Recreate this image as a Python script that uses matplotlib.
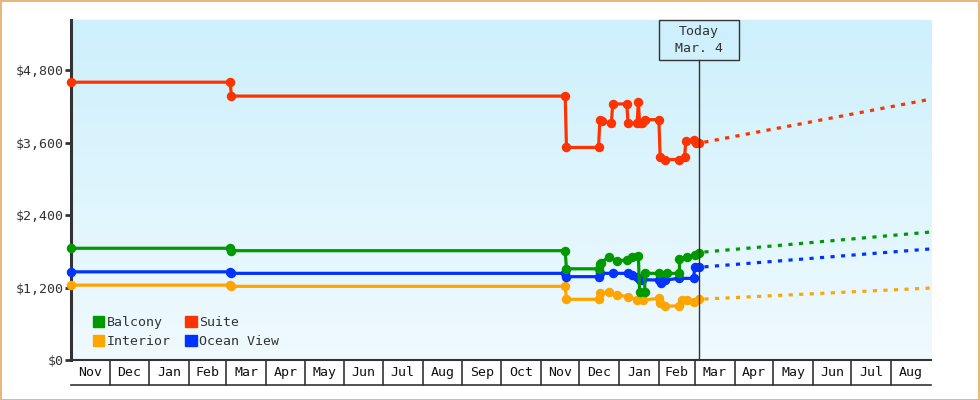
import matplotlib
matplotlib.use("Agg")
import matplotlib.pyplot as plt
import matplotlib.dates as mdates
import matplotlib.patches as mpatches
import matplotlib.transforms as mtransforms
import numpy as np
import pandas as pd

# ---------------- data ----------------
suite_dates = ["2023-11-01", "2024-03-04", "2024-03-05", "2024-11-20", "2024-11-21",
               "2024-12-16", "2024-12-17", "2024-12-19", "2024-12-26", "2024-12-27",
               "2025-01-07", "2025-01-08", "2025-01-15", "2025-01-16", "2025-01-17",
               "2025-01-19", "2025-01-21", "2025-02-01", "2025-02-02", "2025-02-06",
               "2025-02-17", "2025-02-21", "2025-02-22", "2025-02-28", "2025-03-02",
               "2025-03-04"]
suite_prices = [4600, 4600, 4370, 4370, 3520, 3520, 3970, 3960, 3920, 4240,
                4240, 3920, 3920, 4270, 3920, 3920, 3980, 3980, 3360, 3320,
                3320, 3360, 3630, 3640, 3600, 3590]

balcony_dates = ["2023-11-01", "2024-03-04", "2024-03-05", "2024-11-20", "2024-11-21",
                 "2024-12-16", "2024-12-17", "2024-12-18", "2024-12-24", "2024-12-30",
                 "2025-01-07", "2025-01-11", "2025-01-16", "2025-01-17", "2025-01-21",
                 "2025-01-21", "2025-02-01", "2025-02-07", "2025-02-17", "2025-02-17",
                 "2025-02-23", "2025-03-01", "2025-03-04"]
balcony_prices = [1850, 1850, 1810, 1810, 1510, 1510, 1590, 1610, 1710, 1645,
                  1655, 1700, 1720, 1130, 1130, 1435, 1435, 1435, 1435, 1667,
                  1700, 1740, 1780]

ocean_dates = ["2023-11-01", "2024-03-04", "2024-03-05", "2024-11-20", "2024-11-21",
               "2024-12-16", "2024-12-17", "2024-12-27", "2025-01-08", "2025-01-11",
               "2025-01-15", "2025-01-17", "2025-01-19", "2025-02-01", "2025-02-03",
               "2025-02-06", "2025-02-17", "2025-02-28", "2025-03-01", "2025-03-04"]
ocean_prices = [1460, 1460, 1435, 1435, 1380, 1380, 1435, 1435, 1435, 1407,
                1380, 1324, 1330, 1324, 1270, 1324, 1352, 1352, 1540, 1535]

interior_dates = ["2023-11-01", "2024-03-04", "2024-03-05", "2024-11-20", "2024-11-21",
                  "2024-12-16", "2024-12-17", "2024-12-24", "2024-12-30", "2025-01-08",
                  "2025-01-15", "2025-01-20", "2025-02-01", "2025-02-02", "2025-02-06",
                  "2025-02-17", "2025-02-19", "2025-02-23", "2025-02-28", "2025-03-04"]
interior_prices = [1240, 1240, 1220, 1220, 1005, 1005, 1104, 1131, 1076, 1048,
                   993, 993, 1021, 938, 894, 894, 993, 993, 965, 1005]

proj_dates = ["2025-03-04", "2025-09-01"]
suite_proj = [3590, 4320]
balcony_proj = [1780, 2120]
ocean_proj = [1535, 1840]
interior_proj = [1005, 1192]

series_names = ["Balcony", "Interior", "Suite", "Ocean View"]
series_colors = ["#009900", "#ffa500", "#ff3300", "#0033ff"]

y_ticks = [0, 1200, 2400, 3600, 4800]
y_ticklabels = ["$0", "$1,200", "$2,400", "$3,600", "$4,800"]
x_start, x_end = "2023-11-01", "2025-09-01"
today = "2025-03-04"
today_label = "Today\nMar. 4"

# ---------------- figure ----------------
W, H = 980, 400
fig = plt.figure(figsize=(W / 100, H / 100), dpi=100)
fig.patch.set_facecolor("white")
plt.rcParams["font.family"] = ["DejaVu Sans Mono"]
ink = "#333333"

# outer border
fig.add_artist(mpatches.Rectangle((0.5 / W, 0.5 / H), (W - 1.5) / W, (H - 1.5) / H,
                                  transform=fig.transFigure, fill=False,
                                  edgecolor="#e8a860", linewidth=1.2))

ax = fig.add_axes([71 / W, 40 / H, 860 / W, 340 / H])
x0 = mdates.datestr2num(x_start)
x1 = mdates.datestr2num(x_end)
ax.set_xlim(x0, x1)
ax.set_ylim(0, 5630)

# gradient background
grad = np.linspace(0, 1, 256).reshape(-1, 1)
top = np.array([205, 240, 252]) / 255
bot = np.array([240, 250, 255]) / 255
img = top[None, None, :] * (1 - grad[:, :, None]) + bot[None, None, :] * grad[:, :, None]
ax.imshow(img, extent=[0, 1, 0, 1], transform=ax.transAxes, aspect="auto",
          origin="upper", zorder=0)

ax.set_facecolor("none")
for s in ["top", "right"]:
    ax.spines[s].set_visible(False)
ax.spines["left"].set_color(ink)
ax.spines["left"].set_linewidth(2.2)
ax.spines["bottom"].set_color(ink)
ax.spines["bottom"].set_linewidth(1.5)

ax.set_yticks(y_ticks)
ax.set_yticklabels(y_ticklabels)
ax.tick_params(axis="y", length=4, width=2, color=ink, labelcolor=ink,
               labelsize=9.5, pad=1)
ax.set_xticks([])

# month band
trans = mtransforms.blended_transform_factory(ax.transData, ax.transAxes)
band_h = 25 / 340
months = pd.date_range(x_start, x_end, freq="MS")
for i, m in enumerate(months[:-1]):
    mn = mdates.date2num(m)
    mx = mdates.date2num(months[i + 1])
    if i > 0:
        ax.plot([mn, mn], [0, -band_h], transform=trans, color=ink, lw=1.2,
                clip_on=False)
    ax.text((mn + mx) / 2, -band_h / 2, m.strftime("%b"), transform=trans,
            ha="center", va="center", fontsize=9.5, color="#111111", clip_on=False)
ax.plot([x0, x1], [-band_h, -band_h], transform=trans, color=ink, lw=1.2,
        clip_on=False)

# series
hist = {
    "Balcony": (balcony_dates, balcony_prices, balcony_proj),
    "Interior": (interior_dates, interior_prices, interior_proj),
    "Suite": (suite_dates, suite_prices, suite_proj),
    "Ocean View": (ocean_dates, ocean_prices, ocean_proj),
}
draw_order = ["Interior", "Ocean View", "Balcony", "Suite"]
for name in draw_order:
    c = series_colors[series_names.index(name)]
    d, p, pr = hist[name]
    dn = mdates.datestr2num(d)
    ax.plot(dn, p, color=c, lw=2.3, marker="o", markersize=5.8, zorder=3,
            clip_on=False)
    pd_n = mdates.datestr2num(proj_dates)
    ax.plot(pd_n, pr, color=c, lw=2.3, linestyle=(1.5, (1.3, 2.0)), zorder=3,
            dash_capstyle="butt")

# today marker
tn = mdates.datestr2num(today)
box_bottom = 1 - 40 / 340
ax.plot([tn, tn], [0, box_bottom], transform=trans, color=ink, lw=1.0, zorder=4)
bw = 80 / 860 * (x1 - x0)
ax.add_patch(mpatches.Rectangle((tn - bw / 2, box_bottom), bw, 40 / 340,
                                transform=trans, fill=False, edgecolor=ink,
                                lw=1.0, zorder=4, clip_on=False))
ax.text(tn, box_bottom + 20 / 340, today_label, transform=trans, ha="center",
        va="center", fontsize=9.5, color=ink, linespacing=1.35, zorder=5)

# legend
handles = [mpatches.Patch(color=series_colors[i], label=series_names[i])
           for i in range(4)]
ax.legend(handles=handles, ncol=2, loc="lower left",
          bbox_to_anchor=(22 / 860, 12 / 340), frameon=False, fontsize=9.5,
          handlelength=0.85, handleheight=0.85, handletextpad=0.2,
          columnspacing=1.1, labelspacing=0.45, borderpad=0, borderaxespad=0,
          labelcolor=ink)

fig.savefig("out.png", dpi=100, facecolor="white")
